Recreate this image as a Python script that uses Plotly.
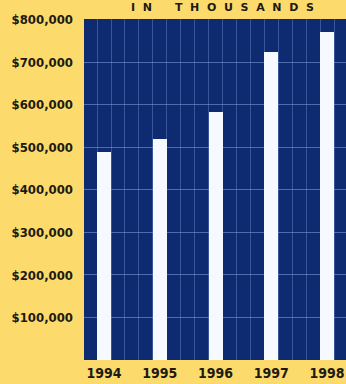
import plotly.graph_objects as go

years = ["1994", "1995", "1996", "1997", "1998"]
values = [489000, 520000, 583000, 724000, 771000]
ytick_vals = [100000, 200000, 300000, 400000, 500000, 600000, 700000, 800000]
ytick_text = ["$100,000", "$200,000", "$300,000", "$400,000",
              "$500,000", "$600,000", "$700,000", "$800,000"]
title_text = "IN THOUSANDS"

NAVY = "#0e2b72"
YELLOW = "#fcdb6c"
INK = "#1c1a12"
FONT = "DejaVu Sans Condensed"

x_idx = list(range(len(years)))

fig = go.Figure()
fig.add_trace(go.Bar(
    x=x_idx, y=values, width=0.25,
    marker=dict(color="#f6f9ff", line=dict(width=0)),
    hoverinfo="skip",
))

spaced = "\u00a0\u00a0\u00a0".join(" ".join(w) for w in title_text.split(" "))
spaced = "\u00a0".join(spaced.split(" "))
spaced = spaced.replace("\u00a0", "\u00a0\u00a0")

fig.update_layout(
    width=346, height=384,
    margin=dict(l=84, r=0, t=19, b=24),
    paper_bgcolor=YELLOW,
    plot_bgcolor=NAVY,
    showlegend=False,
    bargap=0,
    xaxis=dict(
        range=[-0.36, 4.34],
        tickvals=x_idx, ticktext=years,
        tickfont=dict(family=FONT, size=14, color=INK, weight="bold"),
        showgrid=False, zeroline=False, showline=False,
        ticks="", ticklabelstandoff=3,
        minor=dict(dtick=0.25, tick0=0.125, showgrid=True,
                   gridcolor="rgba(120,150,215,0.4)", gridwidth=1),
        fixedrange=True,
    ),
    yaxis=dict(
        range=[0, 802000],
        tickvals=ytick_vals, ticktext=ytick_text,
        tickfont=dict(family=FONT, size=13, color=INK, weight="bold"),
        showgrid=True, gridcolor="rgba(120,150,215,0.6)", gridwidth=1,
        zeroline=False, showline=False, ticks="",
        ticklabelstandoff=10,
        fixedrange=True,
    ),
    annotations=[dict(
        text=spaced, xref="paper", yref="paper",
        x=(222 - 84) / 262, y=1, yshift=12,
        xanchor="center", yanchor="middle", showarrow=False,
        font=dict(family="DejaVu Sans", size=11, color=INK, weight="bold"),
    )],
)

fig.write_html("out.html")
